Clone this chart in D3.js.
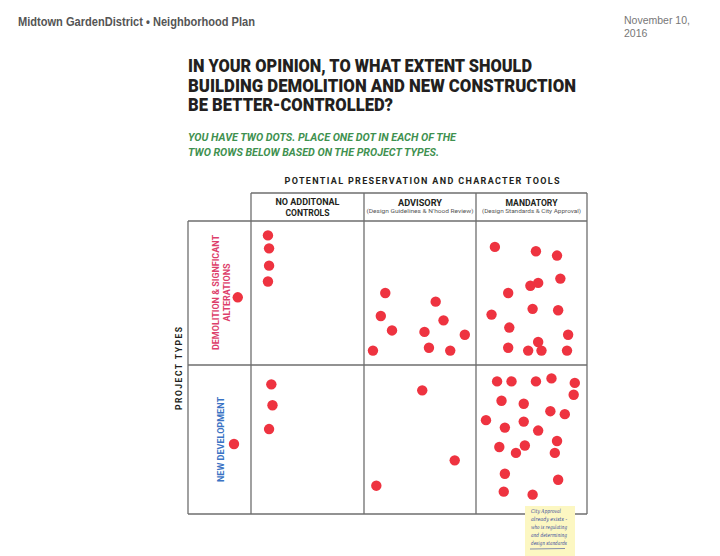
<!DOCTYPE html>
<html lang="en">
<head>
  <meta charset="UTF-8">
  <title>Midtown Garden District - Dot voting</title>
  <style>
    body { margin: 0; background: #fff; }
    svg { display: block; font-family: Roboto, 'Liberation Sans', sans-serif; }
  </style>
</head>
<body>
  <svg width="720" height="556"></svg>

  <script src="https://cdnjs.cloudflare.com/ajax/libs/d3/7.8.5/d3.min.js"></script>
  <script>
  // ---- data ----
  const titleLines = ["IN YOUR OPINION, TO WHAT EXTENT SHOULD",
                      "BUILDING DEMOLITION AND NEW CONSTRUCTION",
                      "BE BETTER-CONTROLLED?"];
  const promptLines = ["YOU HAVE TWO DOTS.  PLACE ONE DOT IN EACH OF THE",
                       "TWO ROWS BELOW BASED ON THE PROJECT TYPES."];
  const columnHeads = [["NO ADDITONAL", "CONTROLS"], ["ADVISORY"], ["MANDATORY"]];
  const columnNotes = ["", "(Design Guidelines & N'hood Review)", "(Design Standards & City Approval)"];
  const rowLabels = [["DEMOLITION & SIGNFICANT", "ALTERATIONS"], ["NEW DEVELOPMENT"]];
  const noteLines = ["City Approval", "already exists -", "who is regulating", "and determining", "design standards"];

  // dot positions in grid units: x 0-1 label column, 1-2 none, 2-3 advisory, 3-4 mandatory; y 0-1 row 1, 1-2 row 2
  const demolitionDots = [
    [0.79, 0.53],
    [1.15, 0.10], [1.16, 0.19], [1.16, 0.31], [1.15, 0.42],
    [2.19, 0.50], [2.15, 0.66], [2.25, 0.76], [2.08, 0.90], [2.64, 0.56],
    [2.71, 0.69], [2.54, 0.77], [2.90, 0.79], [2.58, 0.88], [2.77, 0.90],
    [3.17, 0.18], [3.54, 0.21], [3.73, 0.24], [3.76, 0.40], [3.56, 0.43],
    [3.49, 0.45], [3.29, 0.50], [3.14, 0.65], [3.51, 0.61], [3.74, 0.62],
    [3.30, 0.74], [3.83, 0.79], [3.56, 0.84], [3.29, 0.88], [3.47, 0.90],
    [3.59, 0.90], [3.82, 0.90]
  ];
  const newDevelopmentDots = [
    [0.73, 1.53],
    [1.18, 1.13], [1.19, 1.27], [1.16, 1.43],
    [2.52, 1.17], [2.81, 1.64], [2.11, 1.81],
    [3.19, 1.11], [3.32, 1.11], [3.54, 1.11], [3.68, 1.09], [3.89, 1.12],
    [3.88, 1.20], [3.23, 1.24], [3.43, 1.26], [3.67, 1.31], [3.80, 1.33],
    [3.09, 1.37], [3.43, 1.38], [3.26, 1.42], [3.56, 1.44], [3.73, 1.51],
    [3.21, 1.55], [3.44, 1.54], [3.36, 1.59], [3.71, 1.59], [3.26, 1.73],
    [3.74, 1.77], [3.25, 1.85], [3.51, 1.87]
  ];

  // ---- scales ----
  const x = d3.scaleLinear().domain([0, 1, 2, 3, 4]).range([188, 251, 364, 476, 587]);
  const y = d3.scaleLinear().domain([0, 1, 2]).range([221, 365, 514]);
  const headTop = 193;

  const svg = d3.select("svg");

  function label(g, s, px, py, o) {
    const t = g.append("text")
      .attr("x", px).attr("y", py)
      .attr("font-size", o.size)
      .attr("font-weight", o.weight || "bold")
      .attr("font-style", o.style || "normal")
      .attr("fill", o.color || "#231f20")
      .attr("text-anchor", o.anchor || "start")
      .text(s);
    if (o.len) t.attr("textLength", o.len).attr("lengthAdjust", o.adjust || "spacingAndGlyphs");
    if (o.rotate) t.attr("transform", `rotate(-90,${px},${py})`);
    if (o.family) t.attr("font-family", o.family);
    return t;
  }

  // page header
  label(svg, "Midtown GardenDistrict \u2022 Neighborhood Plan", 18, 26,
    { size: 12.5, color: "#555", len: 237, family: "'Liberation Sans', Arial, sans-serif" });
  label(svg, "November 10,", 624, 24, { size: 10.5, weight: "normal", color: "#777", family: "'Liberation Sans', Arial, sans-serif" });
  label(svg, "2016", 624, 37, { size: 10.5, weight: "normal", color: "#777", family: "'Liberation Sans', Arial, sans-serif" });

  // title and prompt
  const titleLens = [344, 388, 205];
  titleLines.forEach((s, i) => label(svg, s, 188, 72 + i * 19.5, { size: 17.5, weight: 900, len: titleLens[i], color: "#231f20" }));
  const promptLens = [268, 251];
  promptLines.forEach((s, i) => label(svg, s, 188, 141 + i * 14.5, { size: 10, style: "italic", color: "#3f9150", len: promptLens[i] }));

  label(svg, "POTENTIAL PRESERVATION AND CHARACTER TOOLS", (x(1) + x(4)) / 2 + 3, 184,
    { size: 9, anchor: "middle", len: 275, adjust: "spacing" });

  // grid
  const grid = svg.append("g").attr("stroke", "#6e6e6e").attr("stroke-width", 1.3).attr("fill", "none");
  grid.append("line").attr("x1", x(1)).attr("x2", x(4)).attr("y1", headTop).attr("y2", headTop);
  [0, 1, 2].forEach(r => grid.append("line").attr("x1", x(0)).attr("x2", x(4)).attr("y1", y(r)).attr("y2", y(r)));
  grid.append("line").attr("x1", x(0)).attr("x2", x(0)).attr("y1", y(0)).attr("y2", y(2));
  [1, 2, 3, 4].forEach(c => grid.append("line").attr("x1", x(c)).attr("x2", x(c)).attr("y1", headTop).attr("y2", y(2)));

  // column headings
  const headLens = [[64, 44], [44], [52]];
  const noteLens = [0, 107, 99];
  columnHeads.forEach((lines, c) => {
    const cx = (x(c + 1) + x(c + 2)) / 2;
    lines.forEach((s, j) => {
      const py = lines.length > 1 ? 205 + j * 10.5 : 206;
      label(svg, s, cx, py, { size: 8.5, anchor: "middle", len: headLens[c][j] });
    });
    if (columnNotes[c]) label(svg, columnNotes[c], cx, 213, { size: 5.6, weight: "normal", color: "#555", anchor: "middle", len: noteLens[c] });
  });

  // row labels
  const rowColors = ["#dd3f6b", "#3a73c4"];
  const rowLens = [[115, 58], [85]];
  rowLabels.forEach((lines, r) => {
    const cy = r === 0 ? 292.5 : 439.5;
    const baseX = r === 0 ? [218.5, 229.5] : [224];
    lines.forEach((s, j) => label(svg, s, baseX[j], cy, { size: 9.5, anchor: "middle", color: rowColors[r], rotate: true, len: rowLens[r][j] }));
  });
  label(svg, "PROJECT TYPES", 181.5, 368.5, { size: 8.5, anchor: "middle", rotate: true, len: 83, adjust: "spacing" });

  // dots
  svg.append("g").selectAll("circle")
    .data(demolitionDots.concat(newDevelopmentDots))
    .enter().append("circle")
    .attr("cx", d => x(d[0]))
    .attr("cy", d => y(d[1]))
    .attr("r", 5.2)
    .attr("fill", "#ee3340");

  // sticky note
  const note = svg.append("g").attr("transform", "translate(525,506)");
  note.append("rect").attr("width", 50).attr("height", 50).attr("fill", "#fcf7c2");
  noteLines.forEach((s, i) => label(note, s, 6, 7 + i * 8, {
    size: 5.5, weight: "normal", style: "italic", color: "#34489a", len: 36 - (i === 0 ? 6 : 0),
    family: "'DejaVu Serif', serif"
  }));
  note.append("line").attr("x1", 5).attr("x2", 40).attr("y1", 43).attr("y2", 42.5)
    .attr("stroke", "#34489a").attr("stroke-width", 0.6);
  </script>
</body>
</html>
